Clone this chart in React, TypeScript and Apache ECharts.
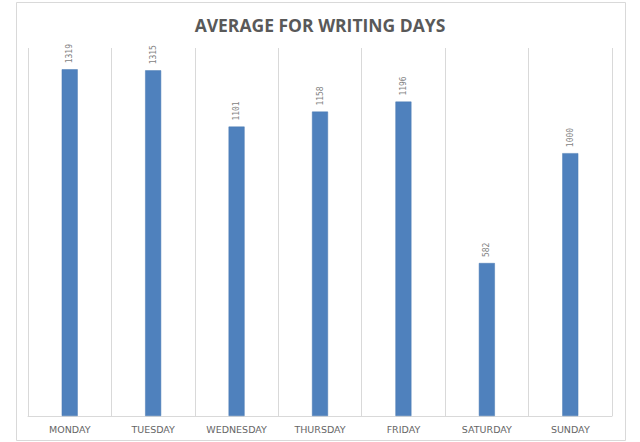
import React, { useEffect, useRef } from "react";
import * as echarts from "echarts";

const categories = ["MONDAY", "TUESDAY", "WEDNESDAY", "THURSDAY", "FRIDAY", "SATURDAY", "SUNDAY"];
const values = [1319, 1315, 1101, 1158, 1196, 582, 1000];
const titleText = "AVERAGE FOR WRITING DAYS";

export default function App() {
  const ref = useRef<HTMLDivElement>(null);
  useEffect(() => {
    if (!ref.current) return;
    const chart = echarts.init(ref.current, undefined, { renderer: "svg" });
    chart.setOption({
      animation: false,
      backgroundColor: "#ffffff",
      title: {
        text: titleText,
        left: "center",
        top: 11,
        textStyle: {
          fontFamily: "Open Sans",
          fontWeight: "bold",
          fontSize: 17.5,
          color: "#595959",
        },
      },
      graphic: [
        {
          type: "rect",
          shape: { x: 16.5, y: 2.5, width: 609, height: 438 },
          style: { fill: "none", stroke: "#d9d9d9", lineWidth: 1 },
          silent: true,
          z: -1,
        },
      ],
      grid: { left: 28, right: 28, top: 48, bottom: 26 },
      xAxis: {
        type: "category",
        data: categories,
        boundaryGap: true,
        axisLine: { show: true, lineStyle: { color: "#d9d9d9", width: 1 } },
        axisTick: { show: false },
        splitLine: { show: true, lineStyle: { color: "#d9d9d9", width: 1 } },
        axisLabel: {
          interval: 0,
          margin: 8,
          fontFamily: "DejaVu Sans",
          fontSize: 9.5,
          color: "#666666",
        },
      },
      yAxis: {
        type: "value",
        min: 0,
        max: 1400,
        show: false,
        splitLine: { show: false },
      },
      series: [
        {
          type: "bar",
          data: values,
          barWidth: 16,
          itemStyle: { color: "#4f81bd", borderColor: "#4a7ab3", borderWidth: 0.5 },
          label: {
            show: true,
            position: "top",
            rotate: 90,
            align: "left",
            verticalAlign: "middle",
            distance: 6,
            fontFamily: "DejaVu Sans Mono",
            fontSize: 8,
            color: "#7f7f7f",
          },
        },
      ],
    });
    return () => chart.dispose();
  }, []);
  return (
    <div
      ref={ref}
      style={{ position: "fixed", left: 0, top: 0, width: 640, height: 442 }}
    />
  );
}
